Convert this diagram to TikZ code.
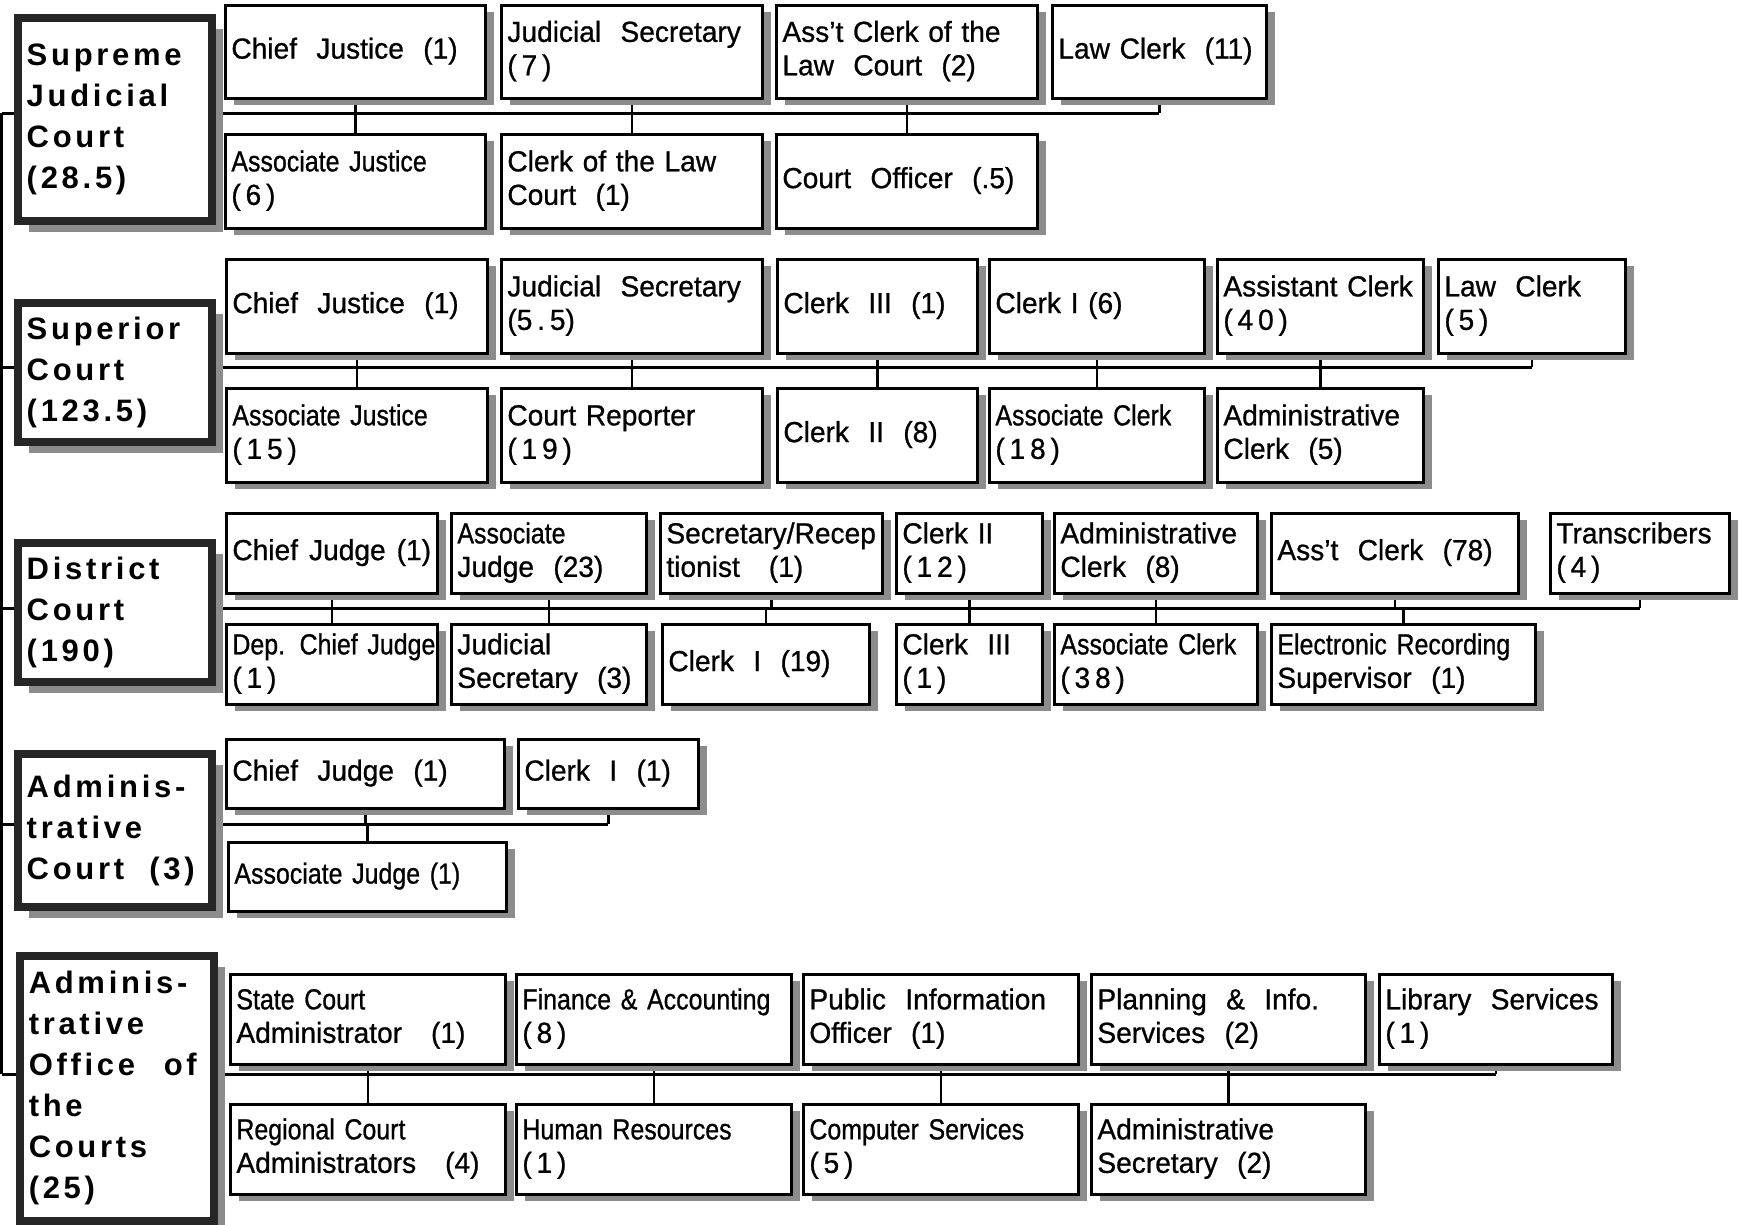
\documentclass[tikz,border=0pt]{standalone}
\usepackage{fontspec}
\setmainfont{Liberation Sans}
\newfontfamily\nf{Liberation Sans}[FakeStretch=0.97,FakeBold=0.8]
\newfontfamily\cf{Liberation Sans}[FakeStretch=0.86,FakeBold=0.8]
\newfontfamily\tf{Liberation Sans}[LetterSpace=12]
\usetikzlibrary{shadows}
\pgfdeclarelayer{bg}
\pgfsetlayers{bg,main}
\tikzset{
  cbox/.style={draw=black, line width=2.8pt, fill=white, rectangle, anchor=north west,
    inner xsep=6pt, inner ysep=0pt, align=left,
    font=\nf\fontsize{29}{33.5}\selectfont,
    drop shadow={shadow xshift=9pt, shadow yshift=-7pt, fill=black!45, opacity=1}},
  courtbox/.style={draw=black!85, line width=7.5pt, fill=white, rectangle, anchor=north west,
    inner xsep=9pt, inner ysep=0pt, align=left, text width=176pt,
    font=\tf\bfseries\fontsize{31}{41}\selectfont,
    drop shadow={shadow xshift=11pt, shadow yshift=-11pt, fill=black!45, opacity=1}},
  hline/.style={draw=black, line width=3pt},
  vline/.style={draw=black, line width=2.6pt}
}
\newcommand{\tl}[1]{\begin{tabular}{@{}l@{}}#1\end{tabular}}
\newcommand{\cbx}[6]{%
  \pgfmathsetmacro{\tw}{#4-#2-12}%
  \pgfmathsetmacro{\bh}{#5-#3}%
  \node[cbox, text width=\tw pt, minimum height=\bh pt] (#1) at (#2,#3) {\tl{#6}};
}
\newcommand{\crt}[6]{%
  \pgfmathsetmacro{\bh}{#5-#3}%
  \node[courtbox, minimum height=\bh pt] (#1) at (#2,#3) {#6};
}
\newcommand{\jline}[1]{\leavevmode\hbox to 168pt{#1}}
\newcommand{\tup}[2]{\draw[vline] (#1.south) -- (#1.south |- #2);}
\newcommand{\tdn}[2]{\draw[vline] (#1.north) -- (#1.north |- #2);}
\begin{document}
\begin{tikzpicture}[x=1pt,y=-1pt]
\useasboundingbox (0,0) rectangle (1745,1224);

% connector levels
\coordinate (sp1) at (1.5,113);
\coordinate (sp2) at (1.5,367);
\coordinate (sp3) at (1.5,608);
\coordinate (sp4) at (1.5,824);
\coordinate (sp5) at (1.5,1074);

% ---------- Supreme Judicial Court
\crt{sjc}{14}{14}{209}{217}{Supreme\\Judicial\\Court\\(28.5)}
\cbx{cj1}{224}{4}{484}{97}{Chief\ \ Justice\ \ (1)}
\cbx{js1}{500}{4}{761}{97}{Judicial\ \ Secretary\\(\,7\,)}
\cbx{ac1}{775}{4}{1036}{97}{Ass’t Clerk of the\\Law\ \ Court\ \ (2)}
\cbx{lc1}{1051}{4}{1265}{97}{Law Clerk\ \ (11)}
\cbx{aj1}{224}{133}{484}{227}{{\cf Associate Justice}\\(\,6\,)}
\cbx{cl1}{500}{133}{761}{227}{Clerk of the Law\\Court\ \ (1)}
\cbx{co1}{775}{133}{1036}{227}{Court\ \ Officer\ \ (.5)}

% ---------- Superior Court
\crt{sup}{14}{299}{209}{438}{Superior\\Court\\(123.5)}
\cbx{cj2}{225}{258}{486}{352}{Chief\ \ Justice\ \ (1)}
\cbx{js2}{500}{258}{761}{352}{Judicial\ \ Secretary\\(5\,.\,5)}
\cbx{c3b}{776}{258}{976}{352}{Clerk\ \ III\ \ (1)}
\cbx{c1b}{988}{258}{1203}{352}{Clerk I (6)}
\cbx{asc2}{1216}{258}{1422}{352}{Assistant\ Clerk\\(\,4\,0\,)}
\cbx{lc2}{1437}{258}{1624}{352}{Law\ \ Clerk\\(\,5\,)}
\cbx{aj2}{225}{387}{486}{481}{{\cf Associate Justice}\\(\,1\,5\,)}
\cbx{cr2}{500}{387}{761}{481}{Court Reporter\\(\,1\,9\,)}
\cbx{c2b}{776}{387}{976}{481}{Clerk\ \ II\ \ (8)}
\cbx{acl2}{988}{387}{1203}{481}{{\cf Associate Clerk}\\(\,1\,8\,)}
\cbx{adc2}{1216}{387}{1422}{481}{Administrative\\Clerk\ \ (5)}

% ---------- District Court
\crt{dis}{14}{539}{209}{678}{District\\Court\\(190)}
\cbx{chj3}{225}{512}{436}{592}{Chief\hspace{11pt}Judge\hspace{11pt}(1)}
\cbx{aj3}{450}{512}{645}{592}{{\cf Associate}\\Judge\ \ (23)}
\cbx{sr3}{659}{512}{881}{592}{Secretary/Recep\\tionist\ \ \ (1)}
\cbx{c2c}{895}{512}{1041}{592}{Clerk II\\(\,1\,2\,)}
\cbx{adc3}{1053}{512}{1256}{592}{Administrative\\Clerk\ \ (8)}
\cbx{asc3}{1270}{512}{1517}{592}{Ass’t\ \ Clerk\ \ (78)}
\cbx{tr3}{1549}{512}{1728}{592}{Transcribers\\(\,4\,)}
\cbx{dcj3}{225}{623}{436}{703}{{\cf Dep. Chief Judge}\\(\,1\,)}
\cbx{js3}{450}{623}{645}{703}{Judicial\\Secretary\ \ (3)}
\cbx{c1c}{661}{623}{868}{703}{Clerk\ \ I\ \ (19)}
\cbx{c3c}{895}{623}{1041}{703}{Clerk\ \ III\\(\,1\,)}
\cbx{acl3}{1053}{623}{1256}{703}{{\cf Associate Clerk}\\(\,3\,8\,)}
\cbx{ers3}{1270}{623}{1534}{703}{{\cf Electronic Recording}\\Supervisor\ \ (1)}

% ---------- Administrative Court
\crt{adm}{14}{750}{209}{903}{Adminis-\\trative\\\jline{Court\hfill(3)}}
\cbx{chj4}{225}{738}{503}{807}{Chief\ \ Judge\ \ (1)}
\cbx{c1d}{517}{738}{697}{807}{Clerk\ \ I\ \ (1)}
\cbx{aj4}{227}{841}{505}{910}{{\cf Associate Judge (1)}}

% ---------- Administrative Office of the Courts
\crt{aoc}{16}{952}{211}{1217}{Adminis-\\trative\\\jline{Office\hfill of}\\the\\Courts\\(25)}
\cbx{sca5}{229}{973}{504}{1063}{{\cf State Court}\\Administrator\ \ \ (1)}
\cbx{fa5}{515}{973}{790}{1063}{{\cf Finance \& Accounting}\\(\,8\,)}
\cbx{pio5}{802}{973}{1077}{1063}{Public\ \ Information\\Officer\ \ (1)}
\cbx{pis5}{1090}{973}{1364}{1063}{Planning\ \ \&\ \ Info.\\Services\ \ (2)}
\cbx{ls5}{1378}{973}{1611}{1063}{Library\ \ Services\\(\,1\,)}
\cbx{rca5}{229}{1103}{504}{1193}{{\cf Regional Court}\\Administrators\ \ \ (4)}
\cbx{hr5}{515}{1103}{790}{1193}{{\cf Human Resources}\\(\,1\,)}
\cbx{cs5}{802}{1103}{1077}{1193}{{\cf Computer Services}\\(\,5\,)}
\cbx{as5}{1090}{1103}{1364}{1193}{Administrative\\Secretary\ \ (2)}

% ---------- background and connectors
\begin{pgfonlayer}{bg}
\fill[white] (0,0) rectangle (1745,1224);
\draw[hline] (sp1) -- (sp5);
\draw[hline] (sp1) -- (sp1 -| lc1.south);
\draw[hline] (sp2) -- (sp2 -| lc2.south);
\draw[hline] (sp3) -- (sp3 -| tr3.south);
\draw[hline] (sp4) -- (sp4 -| c1d.south);
\draw[hline] (sp5) -- (sp5 -| ls5.south);
\foreach \n in {cj1,js1,ac1,lc1} {\tup{\n}{sp1}}
\foreach \n in {aj1,cl1,co1} {\tdn{\n}{sp1}}
\foreach \n in {cj2,js2,c3b,c1b,asc2,lc2} {\tup{\n}{sp2}}
\foreach \n in {aj2,cr2,c2b,acl2,adc2} {\tdn{\n}{sp2}}
\foreach \n in {chj3,aj3,sr3,c2c,adc3,asc3,tr3} {\tup{\n}{sp3}}
\foreach \n in {dcj3,js3,c1c,c3c,acl3,ers3} {\tdn{\n}{sp3}}
\foreach \n in {chj4,c1d} {\tup{\n}{sp4}}
\foreach \n in {aj4} {\tdn{\n}{sp4}}
\foreach \n in {sca5,fa5,pio5,pis5,ls5} {\tup{\n}{sp5}}
\foreach \n in {rca5,hr5,cs5,as5} {\tdn{\n}{sp5}}
\end{pgfonlayer}
\end{tikzpicture}
\end{document}
